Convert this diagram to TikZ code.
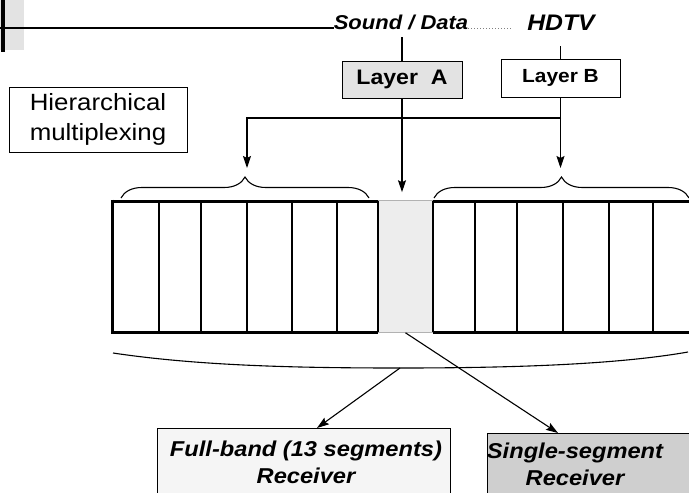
\documentclass[tikz,border=0pt]{standalone}
\usepackage{fontspec}
\setmainfont{Liberation Sans}
\newfontfamily\arialx[FakeStretch=1.1]{Liberation Sans}
\usetikzlibrary{arrows.meta,decorations.pathreplacing}
\begin{document}
\begin{tikzpicture}[x=1pt,y=-1pt,
  conn/.style={line width=1.1pt},
  arr/.style={line width=1.1pt,-{Stealth[length=12pt,width=8pt,inset=2pt]}},
  lab/.style={font=\arialx\bfseries\itshape\fontsize{20}{24}\selectfont,inner sep=0pt},
  layerbox/.style={draw,line width=0.9pt,minimum width=120pt,minimum height=37pt,
    font=\arialx\bfseries\fontsize{19}{22}\selectfont,inner sep=0pt},
  rxbox/.style={draw,line width=0.9pt,inner sep=0pt},
  rxtext/.style={font=\arialx\bfseries\itshape\fontsize{21.5}{27}\selectfont,align=center,inner sep=0pt},
  thickband/.style={line width=3pt},
  divider/.style={line width=1.4pt},
  bracestyle/.style={line width=1.1pt,decorate,decoration={brace,amplitude=21pt,aspect=0.5}}
]
\useasboundingbox (0,0) rectangle (689,493);
\clip (0,0) rectangle (689,493);

% top-left corner
\fill[gray!22] (0,0) rectangle (24,50);
\draw[line width=4pt] (3,0) -- (3,52);

% labels
\node[lab] (snd) at (401,22) {Sound / Data};
\node[lab,font=\arialx\bfseries\itshape\fontsize{22.5}{26}\selectfont] (hdtv) at (561,23) {HDTV};
\draw[line width=2.4pt] (0,28) -- (snd.west |- 0,28);
\draw[gray,dotted,line width=1pt,shorten >=14pt] (snd.east |- 0,28) -- (hdtv.west |- 0,28);

% hierarchical multiplexing
\node[draw,line width=0.9pt,font=\arialx\fontsize{23.5}{30}\selectfont,align=center,
  minimum width=178pt,minimum height=65pt,inner sep=0pt] (hm) at (98,119.5) {Hierarchical\\multiplexing};

% layer boxes
\node[layerbox,fill=gray!22,font=\arialx\bfseries\fontsize{21}{24}\selectfont] (la) at (402,79.5) {Layer~~A};
\node[layerbox,fill=white,minimum width=119pt,minimum height=38pt] (lb) at (560.5,78) {Layer B};

\draw[conn] (la.north) -- ([yshift=-7pt]la.north |- snd.south);
\draw[conn] (lb.north) -- ([yshift=-15pt]lb.north |- hdtv.south);

% band
\node[fill=gray!14,draw=gray!60,line width=0.6pt,minimum width=55pt,minimum height=132pt,inner sep=0pt] (seg) at (405.5,266.5) {};
\foreach \x in {159,201,247,292,337,378,433,475,517,563,609,653}
  \draw[divider] (\x,201) -- (\x,332);
\draw[thickband] (112,201) -- (378,201);
\draw[thickband] (112,332) -- (378,332);
\draw[thickband] (112,199.5) -- (112,333.5);
\draw[thickband] (433,201) -- (700,201);
\draw[thickband] (433,332) -- (700,332);

% braces
\draw[bracestyle] (121,198) -- (369,198);
\draw[bracestyle] (434,198) -- (689,198);
\coordinate (lbr) at (247,177);
\coordinate (rbr) at (561.5,177);
\coordinate (j) at (561,118);

\draw[arr,shorten >=8pt] (la.south) -- (la.south |- seg.north);
\draw[arr,shorten >=9pt] (lb.south) -- (lb.south |- rbr);
\draw[arr,shorten >=9pt] (j) -| (lbr);

% bottom bracket
\draw[line width=1.1pt] (113,353) .. controls (200,366) and (300,368) .. (400,368)
  .. controls (520,368) and (620,364) .. (688,352);
\coordinate (bb) at (400,368);

% receivers
\node[rxbox,fill=gray!8,minimum width=293pt,minimum height=69pt] (fb) at (303.5,462.5) {};
\node[rxtext] (fbt) at (306,462) {Full-band (13 segments)\\Receiver};
\node[rxbox,fill=gray!38,minimum width=202pt,minimum height=64pt,anchor=north west] (sb) at (487,433) {};
\node[rxtext] (sbt) at (575,464) {Single-segment\\Receiver};

\coordinate (fbin) at (317,428);
\coordinate (sbin) at (558,433);
\draw[arr] (bb) -- (fbin);
\draw[arr] (seg.south) -- (sbin);
\end{tikzpicture}
\end{document}
